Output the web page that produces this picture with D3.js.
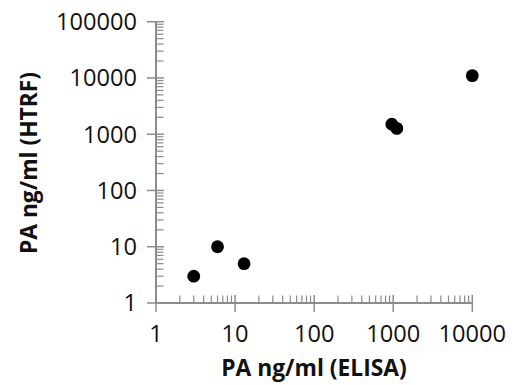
<!DOCTYPE html>
<html><head><meta charset="utf-8">
<script src="https://cdn.jsdelivr.net/npm/d3@7"></script>
<style>body{margin:0;background:#fff}svg{display:block}</style>
</head><body>
<svg id="c" width="516" height="385"></svg>
<script>
const elisa = [3, 6, 13, 960, 1110, 10000];
const htrf = [3, 10, 5, 1510, 1270, 11000];
const xTicks = [1, 10, 100, 1000, 10000];
const yTicks = [1, 10, 100, 1000, 10000, 100000];
const xTitle = "PA ng/ml (ELISA)";
const yTitle = "PA ng/ml (HTRF)";

const svg = d3.select("#c");
const x = d3.scaleLog().domain([1, 10000]).range([156, 472.3]);
const y = d3.scaleLog().domain([1, 100000]).range([303, 21.7]);
const axisCol = "#8c8c8c";
const font = "'Open Sans', sans-serif";

function minors(dom) {
  const out = [];
  for (let d = dom[0]; d < dom[1]; d *= 10)
    for (let k = 2; k <= 9; k++) out.push(d * k);
  return out;
}

const g = svg.append("g");
// y axis
g.append("line").attr("x1", 156).attr("x2", 156).attr("y1", y(100000)).attr("y2", y(1))
  .attr("stroke", axisCol).attr("stroke-width", 2);
g.selectAll(".ymin").data(minors([1, 100000])).join("line")
  .attr("x1", 156).attr("x2", 163.5).attr("y1", d => y(d)).attr("y2", d => y(d))
  .attr("stroke", axisCol).attr("stroke-width", 1.2);
g.selectAll(".ymaj").data(yTicks).join("line")
  .attr("x1", 147).attr("x2", 164).attr("y1", d => y(d)).attr("y2", d => y(d))
  .attr("stroke", axisCol).attr("stroke-width", 1.5);
g.selectAll(".ylab").data(yTicks).join("text")
  .attr("x", 137).attr("y", d => y(d)).attr("dy", "0.36em")
  .attr("text-anchor", "end").attr("font-family", font).attr("font-size", 23.6)
  .attr("fill", "#111").text(d => d);

// x axis
g.append("line").attr("x1", x(1)).attr("x2", x(10000)).attr("y1", 303).attr("y2", 303)
  .attr("stroke", axisCol).attr("stroke-width", 2);
g.selectAll(".xmin").data(minors([1, 10000])).join("line")
  .attr("x1", d => x(d)).attr("x2", d => x(d)).attr("y1", 295.5).attr("y2", 303)
  .attr("stroke", axisCol).attr("stroke-width", 1.2);
g.selectAll(".xmaj").data(xTicks).join("line")
  .attr("x1", d => x(d)).attr("x2", d => x(d)).attr("y1", 295).attr("y2", 312)
  .attr("stroke", axisCol).attr("stroke-width", 1.5);
g.selectAll(".xlab").data(xTicks).join("text")
  .attr("x", d => x(d)).attr("y", 342)
  .attr("text-anchor", "middle").attr("font-family", font).attr("font-size", 23.6)
  .attr("fill", "#111").text(d => d);

// titles
svg.append("text").attr("x", 314).attr("y", 376).attr("text-anchor", "middle")
  .attr("font-family", font).attr("font-weight", "bold").attr("font-size", 22.8)
  .attr("fill", "#111").text(xTitle);
svg.append("text").attr("transform", "translate(37,163) rotate(-90)").attr("text-anchor", "middle")
  .attr("font-family", font).attr("font-weight", "bold").attr("font-size", 22.8)
  .attr("fill", "#111").text(yTitle);

// points
svg.selectAll(".pt").data(elisa.map((e, i) => [e, htrf[i]])).join("circle")
  .attr("cx", d => x(d[0])).attr("cy", d => y(d[1])).attr("r", 6.4).attr("fill", "#000");
</script>
</body></html>
